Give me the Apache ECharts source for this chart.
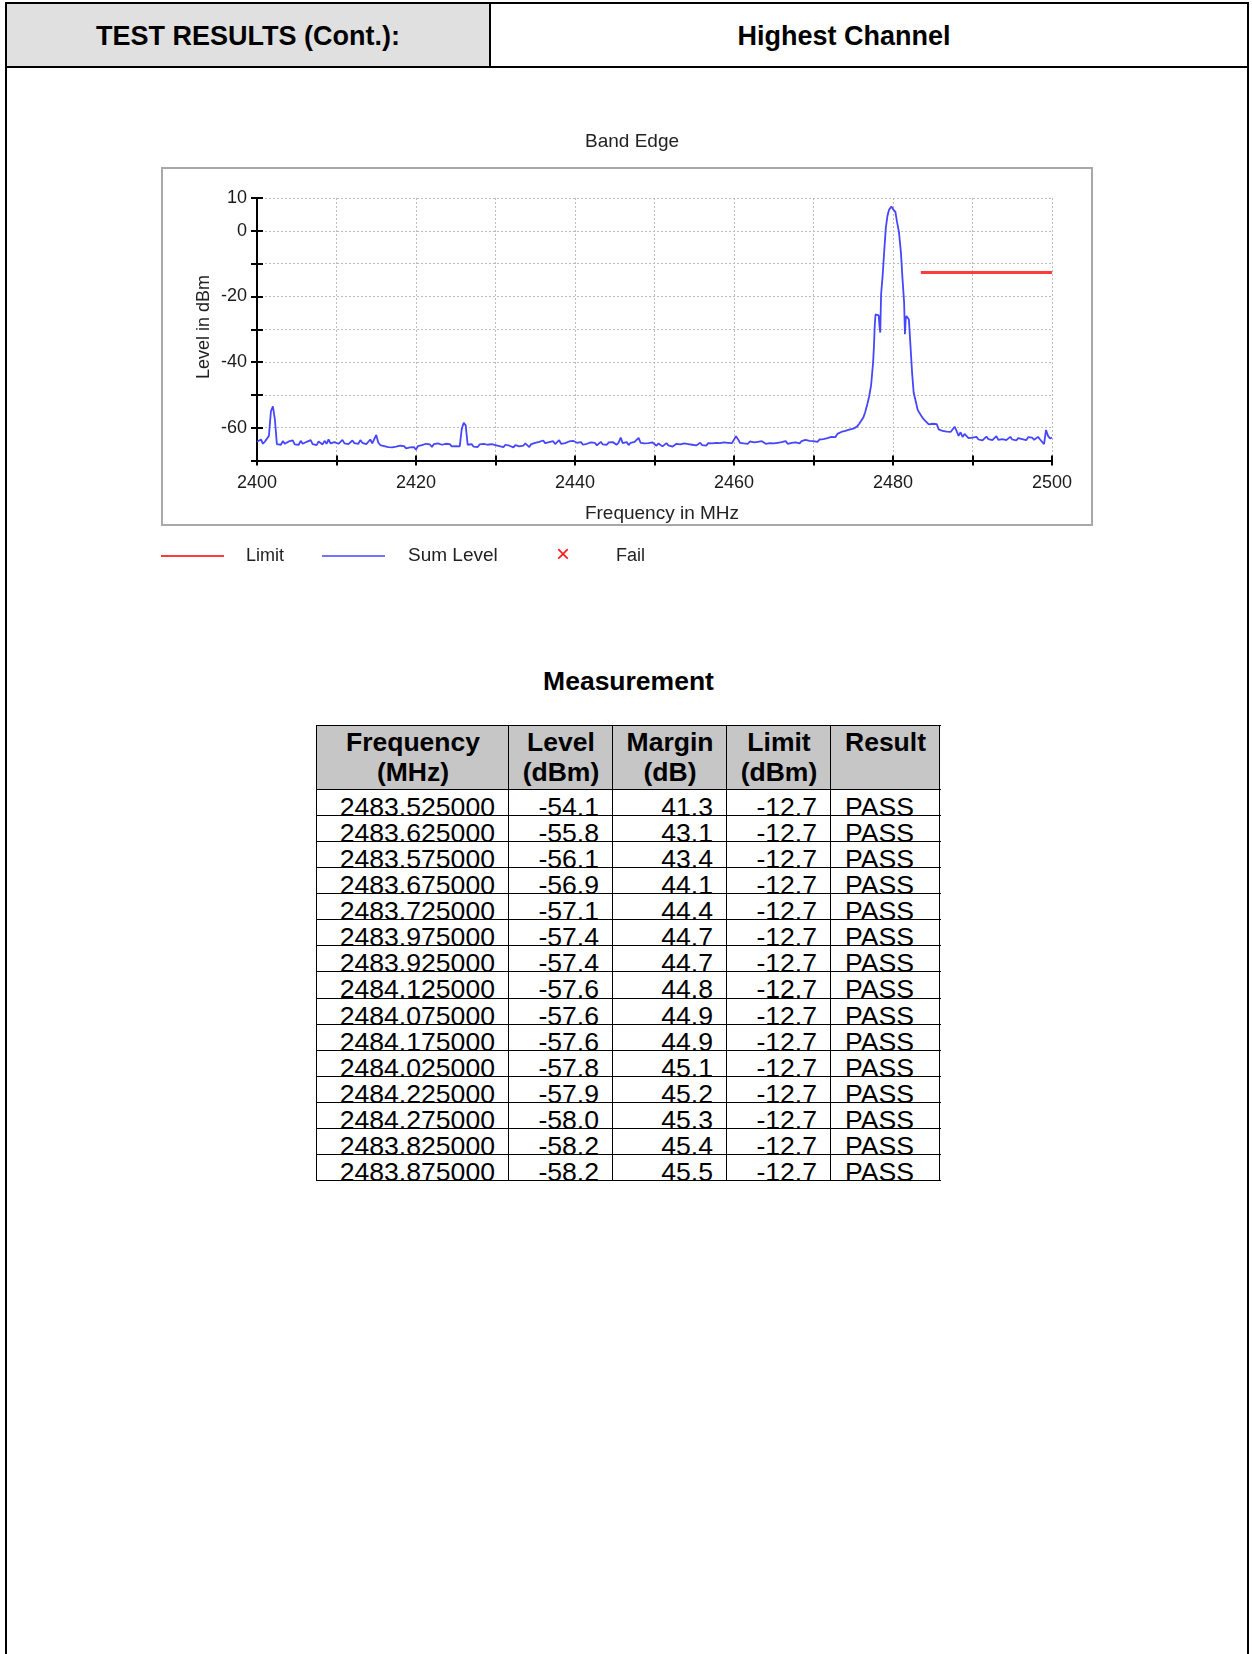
<!DOCTYPE html>
<html>
<head>
<meta charset="utf-8">
<script src="https://cdn.jsdelivr.net/npm/echarts/dist/echarts.min.js"></script>
<style>
  html, body { margin:0; padding:0; background:#fff; }
  body { width:1252px; height:1654px; position:relative; overflow:hidden; font-family:"Liberation Sans", Arial, sans-serif; color:#000; }
  .ln { position:absolute; background:#000; z-index:3; }
  .abs { position:absolute; }
  .hdr { position:absolute; font-weight:bold; font-size:27px; text-align:center; }
  .cell { position:absolute; font-size:26.6px; line-height:26px; white-space:nowrap; z-index:1; }
  .hcell { position:absolute; font-size:26.5px; line-height:29.5px; font-weight:bold; text-align:center; z-index:1; }
</style>
</head>
<body>
<!-- page header -->
<div class="abs" style="left:6px;top:3px;width:484px;height:64px;background:#e0e0e0;"></div>
<div class="hdr" style="left:6px;top:5px;width:484px;height:63px;line-height:63px;">TEST RESULTS (Cont.):</div>
<div class="hdr" style="left:491px;top:5px;width:706px;height:63px;line-height:63px;">Highest Channel</div>
<div class="ln" style="left:5px;top:2px;width:1244px;height:2px;"></div>
<div class="ln" style="left:5px;top:66px;width:1244px;height:2px;"></div>
<div class="ln" style="left:5px;top:2px;width:2px;height:1652px;"></div>
<div class="ln" style="left:1247px;top:2px;width:2px;height:1652px;"></div>
<div class="ln" style="left:489px;top:2px;width:2px;height:65px;"></div>

<div id="chart" class="abs" style="left:0;top:0;width:1252px;height:600px;"></div>

<div class="hdr" style="left:317px;top:665px;width:623px;height:32px;line-height:32px;font-size:26.5px;">Measurement</div>
<div id="tbl"></div>

<script>
// ---------------- data ----------------
// Sum Level trace, 2400.00 .. 2477.50 MHz, 0.25 MHz step
const levelAStart = 2400, levelAStep = 0.25;
const levelA = [
  -64.3,-64.8,-63.6,-64.9,-64.2,-64.6,-62.5,-55.0,-53.5,-57.5,-65.0,-64.4,-65.2,-64.1,-64.9,-65.3,-64.2,-64.8,-63.9,-65.1,
  -64.6,-65.2,-64.0,-64.9,-65.4,-64.3,-64.8,-63.8,-65.0,-64.5,-65.3,-64.2,-64.7,-65.1,-64.0,-64.9,-63.6,-64.8,-65.2,-64.4,
  -64.1,-64.9,-64.3,-63.7,-64.8,-64.2,-65.0,-64.4,-63.9,-64.7,-64.3,-64.9,-63.8,-64.6,-64.2,-65.0,-64.4,-63.6,-64.8,-64.3,
  -62.2,-64.5,-65.3,-64.8,-65.6,-65.1,-65.9,-65.3,-66.0,-65.4,-65.8,-66.2,-65.5,-66.1,-65.6,-66.3,-65.7,-66.0,-66.5,-65.9,
  -66.7,-65.6,-66.1,-65.3,-65.8,-64.9,-65.5,-65.1,-65.9,-65.0,-65.6,-64.8,-65.4,-65.2,-65.8,-64.9,-65.5,-65.0,-65.7,-65.2,
  -65.6,-65.1,-65.7,-60.5,-58.5,-59.3,-65.2,-65.6,-65.0,-65.8,-65.3,-65.9,-65.1,-65.6,-64.9,-65.5,-65.2,-65.8,-65.0,-65.4,
  -65.3,-64.8,-65.6,-65.0,-65.9,-65.2,-64.7,-65.5,-65.1,-66.0,-65.3,-64.9,-65.7,-65.1,-65.5,-64.8,-65.4,-65.9,-65.0,-65.3,
  -64.6,-65.1,-64.3,-64.9,-63.9,-64.7,-65.2,-64.4,-64.8,-64.1,-65.0,-64.5,-63.8,-64.9,-64.3,-64.7,-65.1,-64.2,-64.6,-64.0,
  -63.9,-64.6,-65.0,-64.4,-65.2,-64.7,-64.9,-65.3,-64.5,-65.0,-64.6,-65.4,-64.8,-64.3,-65.1,-64.7,-65.2,-64.5,-64.9,-64.4,
  -64.8,-65.2,-64.5,-63.0,-64.7,-65.1,-64.4,-65.3,-64.6,-65.0,-64.3,-64.9,-63.1,-64.6,-65.2,-64.8,-65.4,-64.7,-65.0,-64.5,
  -65.0,-65.5,-64.8,-65.3,-65.7,-65.1,-64.7,-65.4,-65.0,-65.8,-65.2,-64.9,-65.5,-65.1,-65.6,-64.8,-65.3,-65.0,-65.6,-65.2,
  -64.9,-65.4,-65.0,-64.6,-65.3,-64.9,-65.5,-64.7,-65.1,-64.8,-65.3,-64.6,-65.0,-64.7,-65.2,-64.5,-64.9,-64.6,-65.0,-64.7,
  -64.4,-62.6,-63.5,-64.6,-64.0,-64.8,-64.3,-64.9,-64.2,-64.7,-64.5,-65.0,-64.3,-64.8,-64.1,-64.6,-64.9,-64.3,-64.7,-64.4,
  -64.8,-64.2,-64.6,-65.0,-64.4,-64.7,-64.1,-64.9,-64.3,-64.6,-64.0,-64.5,-64.2,-64.8,-64.1,-64.4,-63.7,-64.3,-64.0,-64.5,
  -64.1,-63.8,-64.3,-63.6,-64.0,-63.5,-63.9,-63.2,-63.6,-62.8,-62.2,-62.9,-61.9,-62.4,-61.3,-61.9,-61.0,-61.5,-60.6,-61.1,
  -60.3,-59.8,-59.6,-58.8,-58.2,-57.0,-55.3,-53.0,-50.5,-47.0,-40.0
];
// Carrier peak detail
const peakFreq = [2477.6,2477.7,2477.8,2478.0,2478.2,2478.3,2478.4,2478.5,2478.7,2478.9,
                  2479.1,2479.3,2479.5,2479.7,2479.8,2479.9,2480.0,2480.1,2480.3,2480.5,
                  2480.75,2481.0,2481.2,2481.4,2481.5,2481.6,2481.7,2481.9,2482.0,2482.2,
                  2482.4,2482.6,2482.9,2483.1,2483.3];
const peakLevel = [-35.5,-29.0,-25.5,-25.0,-25.8,-29.0,-31.0,-19.5,-13.5,-6.0,
                   1.0,4.5,6.4,6.8,7.4,8.0,6.6,7.0,5.8,2.8,
                   -0.4,-6.7,-14.8,-21.9,-31.5,-26.8,-26.0,-26.2,-27.0,-35.1,
                   -43.2,-49.3,-52.4,-54.5,-55.4];
// 2483.50 .. 2500.00 MHz, 0.25 MHz step
const levelBStart = 2483.5, levelBStep = 0.25;
const levelB = [
  -55.8,-57.1,-57.8,-57.9,-59.0,-59.3,-58.8,-59.4,-58.9,-60.5,-60.0,-61.0,-60.4,-61.2,-60.6,-61.3,-60.8,-59.7,-61.0,-62.5,
  -61.4,-62.8,-61.9,-62.3,-63.2,-62.6,-63.0,
  -63.5,-62.8,-63.6,-63.1,-63.9,-63.3,-62.7,-63.5,-63.0,-63.8,
  -63.2,-62.6,-63.7,-63.1,-63.5,-62.9,-63.8,-63.3,-62.8,-63.6,
  -63.0,-63.9,-63.2,-62.7,-63.5,-63.1,-63.8,-62.9,-63.4,-63.0,
  -63.7,-63.2,-62.8,-63.6,-63.1,-65.0,-60.7,-62.5,-63.3,-63.0
];
// Limit line
const limitFreq = [2483.5, 2500];
const limitLevel = [-12.7, -12.7];

// axis ticks
const xMin = 2400, xMax = 2500, xTick = 10, xLabelEvery = 20;
const yMin = -70, yMax = 10, yTick = 10;
const yLabelValues = [10, 0, -20, -40, -60];

// table
const tableHead = ['Frequency\n(MHz)', 'Level\n(dBm)', 'Margin\n(dB)', 'Limit\n(dBm)', 'Result'];
const tableFreq = ['2483.525000','2483.625000','2483.575000','2483.675000','2483.725000','2483.975000','2483.925000','2484.125000','2484.075000','2484.175000','2484.025000','2484.225000','2484.275000','2483.825000','2483.875000'];
const tableLevel = [-54.1,-55.8,-56.1,-56.9,-57.1,-57.4,-57.4,-57.6,-57.6,-57.6,-57.8,-57.9,-58.0,-58.2,-58.2];
const tableMargin = [41.3,43.1,43.4,44.1,44.4,44.7,44.7,44.8,44.9,44.9,45.1,45.2,45.3,45.4,45.5];
const tableLimit = [-12.7,-12.7,-12.7,-12.7,-12.7,-12.7,-12.7,-12.7,-12.7,-12.7,-12.7,-12.7,-12.7,-12.7,-12.7];
const tableResult = ['PASS','PASS','PASS','PASS','PASS','PASS','PASS','PASS','PASS','PASS','PASS','PASS','PASS','PASS','PASS'];

// ---------------- chart ----------------
const sumData = [];
levelA.forEach((v, i) => sumData.push([levelAStart + i * levelAStep, v]));
peakFreq.forEach((f, i) => sumData.push([f, peakLevel[i]]));
levelB.forEach((v, i) => sumData.push([levelBStart + i * levelBStep, v]));
const limitData = limitFreq.map((f, i) => [f, limitLevel[i]]);

const FONT = '"Liberation Sans", Arial, sans-serif';
const chart = echarts.init(document.getElementById('chart'), null, {renderer: 'canvas'});
const gridLine = {show: true, lineStyle: {color: '#bdbdbd', width: 1, type: [2, 2]}};
const option = {
  animation: false,
  backgroundColor: 'transparent',
  grid: {left: 257, top: 198, width: 795, height: 262.5, outerBoundsMode: 'none', containLabel: false},
  xAxis: [
    {type: 'value', min: xMin, max: xMax, interval: xTick,
     axisLine: {show: true, onZero: false, lineStyle: {color: '#000', width: 2}},
     axisTick: {show: true, length: 5, lineStyle: {color: '#000', width: 2}},
     axisLabel: {margin: 14, fontFamily: FONT, fontSize: 18, color: '#1a1a1a',
                 formatter: v => (v % xLabelEvery === 0 ? String(v) : '')},
     splitLine: gridLine},
    {type: 'value', min: xMin, max: xMax, interval: xTick, position: 'bottom',
     axisLine: {show: false, onZero: false}, axisTick: {show: true, inside: true, length: 5, lineStyle: {color: '#000', width: 2}},
     axisLabel: {show: false}, splitLine: {show: false}}
  ],
  yAxis: [
    {type: 'value', min: yMin, max: yMax, interval: yTick,
     axisLine: {show: true, onZero: false, lineStyle: {color: '#000', width: 2}},
     axisTick: {show: true, length: 6, lineStyle: {color: '#000', width: 2}},
     axisLabel: {margin: 10, fontFamily: FONT, fontSize: 18, color: '#1a1a1a',
                 formatter: v => (yLabelValues.indexOf(v) >= 0 ? String(v) : '')},
     splitLine: gridLine},
    {type: 'value', min: yMin, max: yMax, interval: yTick, position: 'left',
     axisLine: {show: false, onZero: false}, axisTick: {show: true, inside: true, length: 6, lineStyle: {color: '#000', width: 2}},
     axisLabel: {show: false}, splitLine: {show: false}}
  ],
  series: [
    {name: 'Sum Level', type: 'line', data: sumData, showSymbol: false, symbol: 'none',
     lineStyle: {color: '#4646ff', width: 1.8}, itemStyle: {color: '#4646ff'}, z: 3, sampling: null},
    {name: 'Limit', type: 'line', data: limitData, showSymbol: false, symbol: 'none',
     lineStyle: {color: '#ff3c3c', width: 3}, itemStyle: {color: '#ff3c3c'}, z: 4}
  ],
  graphic: [
    {type: 'rect', shape: {x: 162, y: 168, width: 930, height: 357}, style: {fill: 'none', stroke: '#a8a8a8', lineWidth: 2}, z: 0},
    {type: 'text', x: 632, y: 141.5, style: {text: 'Band Edge', fontFamily: FONT, fontSize: 19, fill: '#222', align: 'center', verticalAlign: 'middle'}},
    {type: 'text', x: 662, y: 514, style: {text: 'Frequency in MHz', fontFamily: FONT, fontSize: 19, fill: '#222', align: 'center', verticalAlign: 'middle'}},
    {type: 'text', x: 204, y: 327, rotation: Math.PI / 2, style: {text: 'Level in dBm', fontFamily: FONT, fontSize: 18, fill: '#222', align: 'center', verticalAlign: 'middle'}},
    {type: 'line', shape: {x1: 161, y1: 556, x2: 224, y2: 556}, style: {stroke: '#ff3c3c', lineWidth: 2}},
    {type: 'text', x: 246, y: 556, style: {text: 'Limit', fontFamily: FONT, fontSize: 18, fill: '#222', align: 'left', verticalAlign: 'middle'}},
    {type: 'line', shape: {x1: 322, y1: 556, x2: 385, y2: 556}, style: {stroke: '#4646ff', lineWidth: 1.5}},
    {type: 'text', x: 408, y: 556, style: {text: 'Sum Level', fontFamily: FONT, fontSize: 19, fill: '#222', align: 'left', verticalAlign: 'middle'}},
    {type: 'text', x: 563, y: 555, style: {text: '\u00d7', fontFamily: FONT, fontSize: 24, fill: '#ff2020', align: 'center', verticalAlign: 'middle'}},
    {type: 'text', x: 616, y: 556, style: {text: 'Fail', fontFamily: FONT, fontSize: 18, fill: '#222', align: 'left', verticalAlign: 'middle'}}
  ]
};
chart.setOption(option);

// ---------------- table ----------------
(function buildTable() {
  const tbl = document.getElementById('tbl');
  const cols = [317, 509, 613, 727, 831, 940];
  const top = 726, headBottom = 790, bottom = 1181;
  const rowH = (bottom - headBottom) / tableFreq.length;
  const add = (cls, css, text) => {
    const d = document.createElement('div');
    d.className = cls;
    d.style.cssText = css;
    if (text !== undefined) d.textContent = text;
    tbl.appendChild(d);
    return d;
  };
  add('abs', `left:${cols[0]}px;top:${top}px;width:${cols[5]-cols[0]}px;height:${headBottom-top}px;background:#c6c6c6;`);
  tableHead.forEach((h, c) => {
    const d = add('hcell', `left:${cols[c]}px;top:${top+2}px;width:${cols[c+1]-cols[c]}px;`);
    d.innerHTML = h.split('\n').join('<br>');
  });
  for (let r = 0; r < tableFreq.length; r++) {
    const rt = headBottom + r * rowH + 4;
    const vals = [tableFreq[r], tableLevel[r].toFixed(1), tableMargin[r].toFixed(1), tableLimit[r].toFixed(1), tableResult[r]];
    vals.forEach((v, c) => {
      const w = cols[c+1] - cols[c];
      if (c === 4) {
        add('cell', `left:${cols[c]+14}px;top:${rt}px;width:${w-14}px;text-align:left;`, v);
      } else {
        add('cell', `left:${cols[c]}px;top:${rt}px;width:${w-14}px;text-align:right;`, v);
      }
    });
  }
  const hl = [top, headBottom];
  for (let r = 1; r <= tableFreq.length; r++) hl.push(headBottom + r * rowH);
  hl.forEach(y => add('ln', `left:${cols[0]}px;top:${Math.round(y)-1}px;width:${cols[5]-cols[0]+1}px;height:1.3px;`));
  cols.forEach(x => add('ln', `left:${x-1}px;top:${top-1}px;width:1.3px;height:${bottom-top+1}px;`));
})();
</script>
</body>
</html>
